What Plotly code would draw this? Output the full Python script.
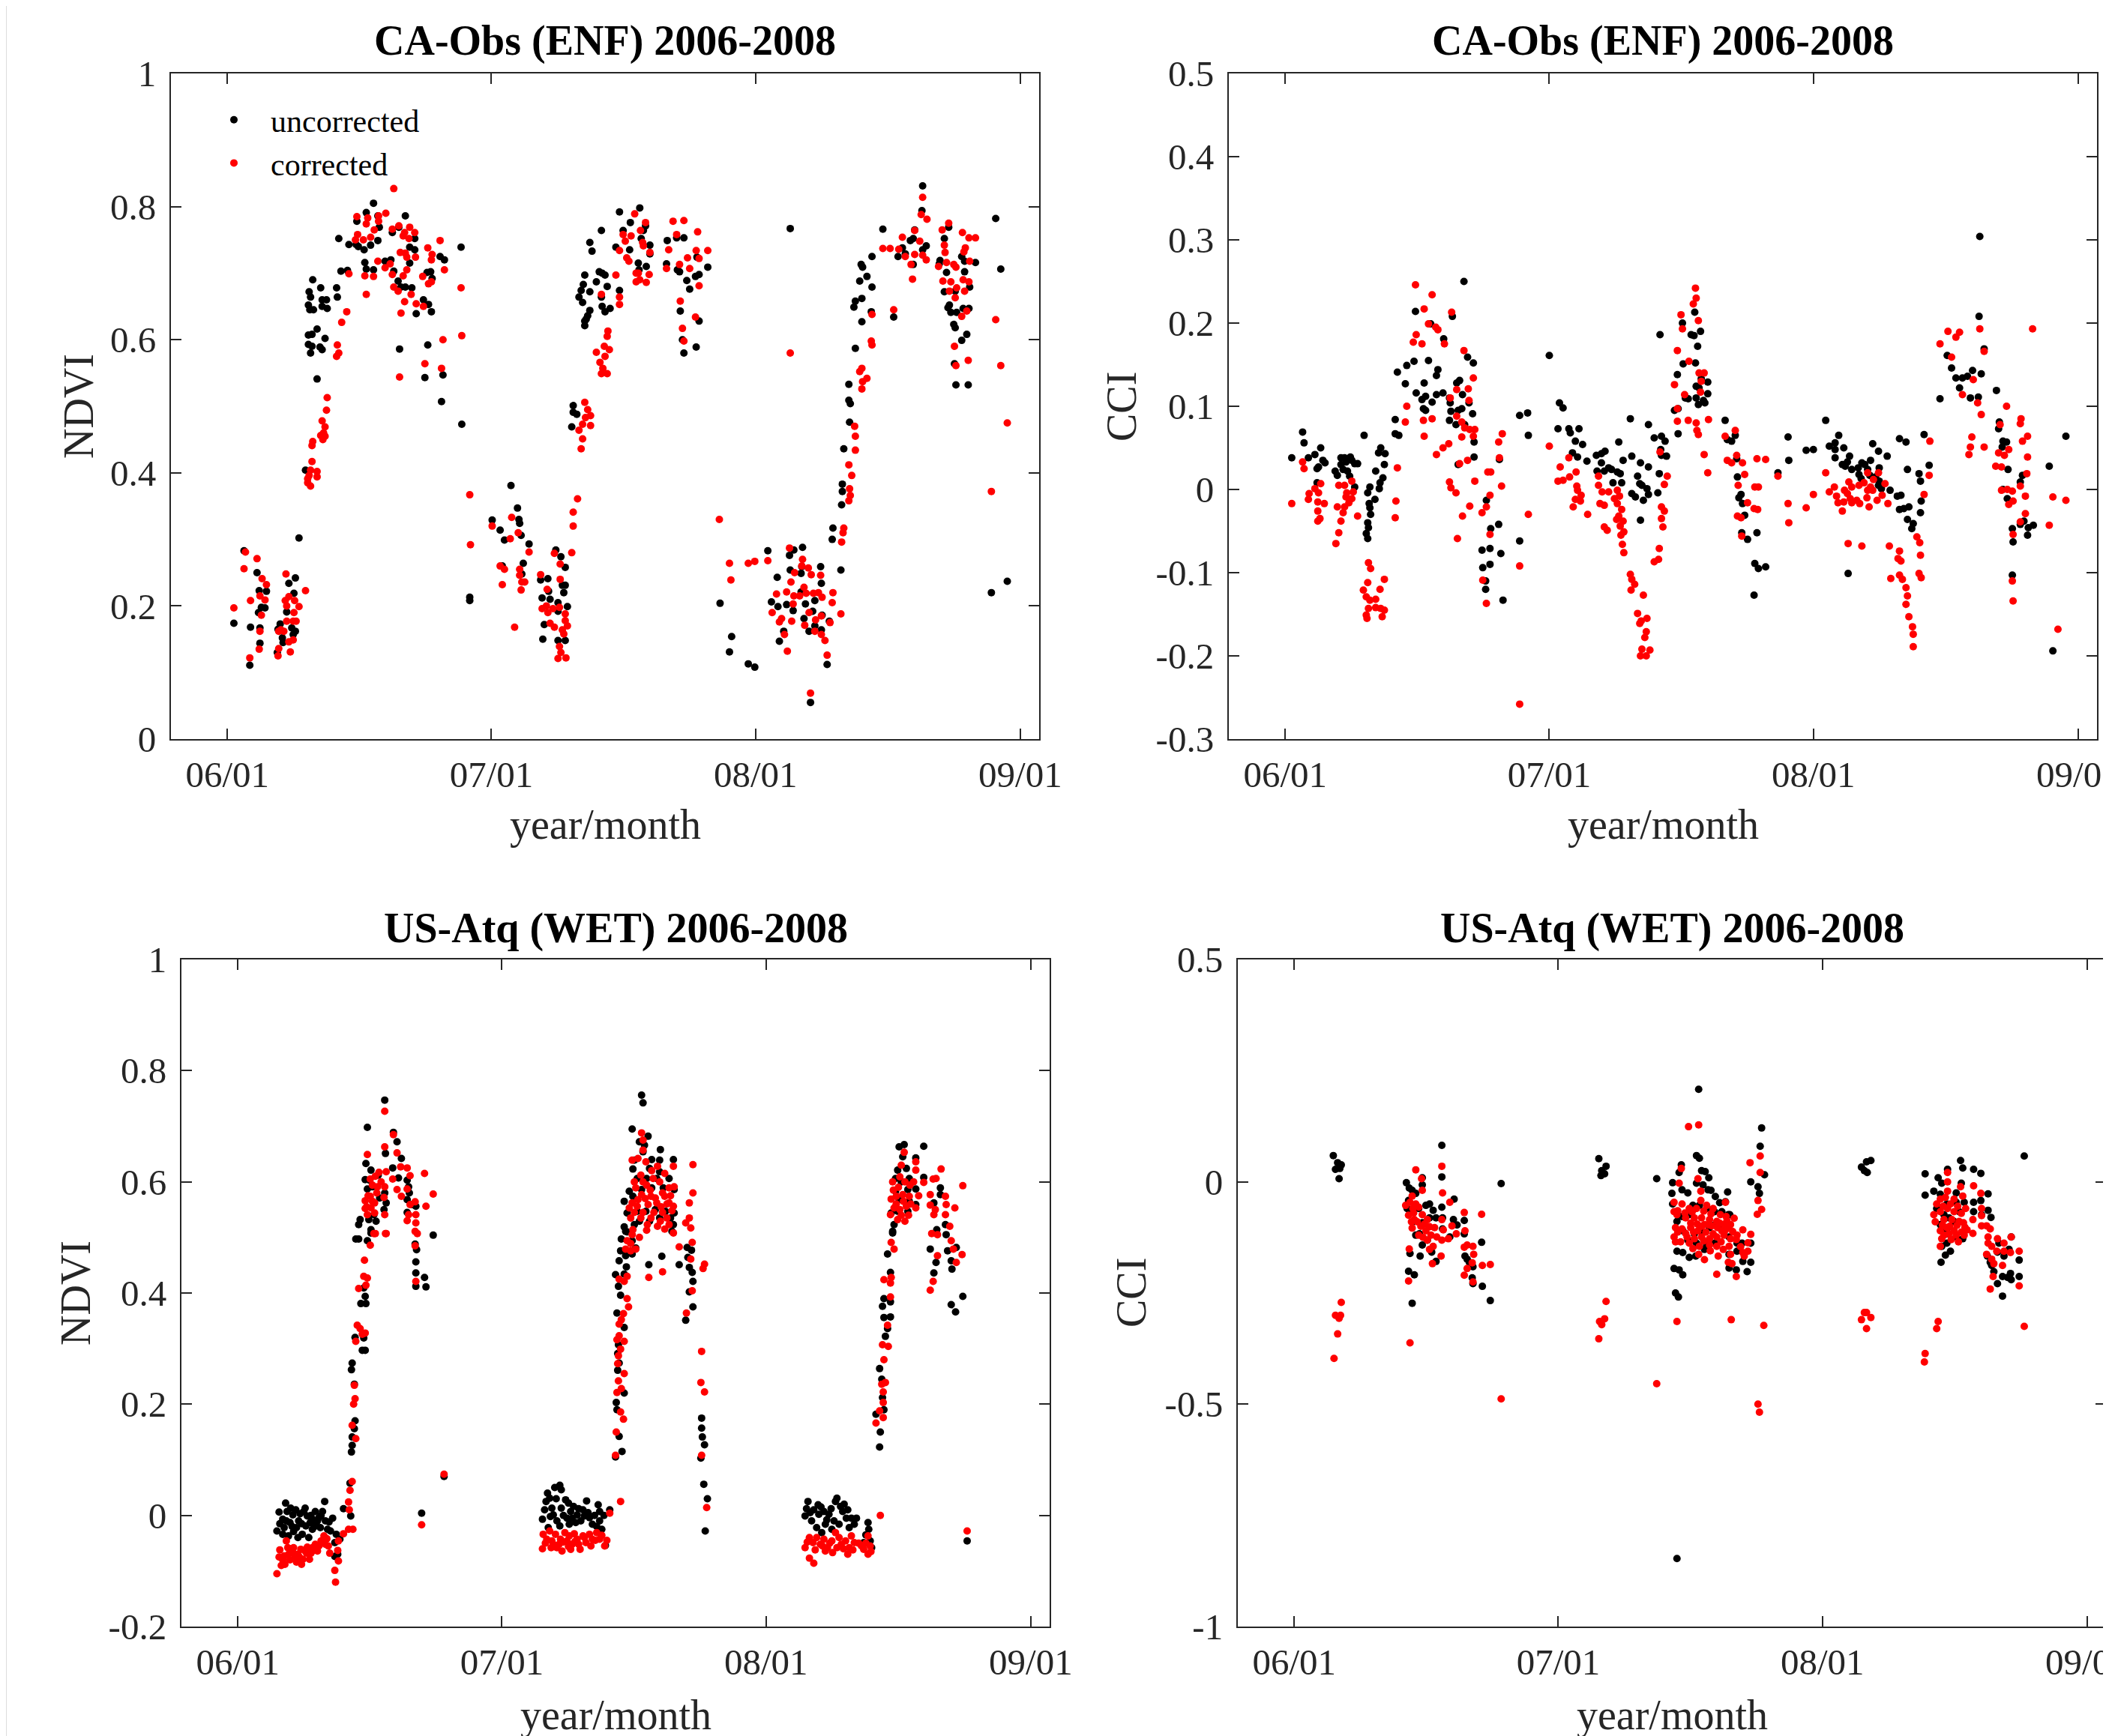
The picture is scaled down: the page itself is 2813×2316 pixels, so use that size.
import plotly.graph_objects as go
import pandas as pd

# ---------------- data (day offset from 2006-01-01, value) ----------------
DAY0 = "2006-01-01"

ca_ndvi_uncorrected = [
 (9,0.174),(23,0.283),(31,0.111),(32,0.168),(41,0.250),(43,0.190),(44,0.223),(47,0.198),(52,0.197),(54,0.222),
 (45,0.167),(45,0.144),(70,0.165),(73,0.173),(69,0.130),(76,0.152),(77,0.145),(82,0.191),(85,0.234),(92,0.219),
 (94,0.242),(89,0.167),(91,0.157),(99,0.302),(94,0.162),
 (108,0.404),(113,0.672),(115,0.664),(112,0.652),(114,0.645),(119,0.645),(118,0.690),(129,0.678),(131,0.660),(131,0.650),
 (137,0.660),(138,0.647),(151,0.678),(152,0.664),(112,0.607),(117,0.608),(124,0.616),(135,0.602),(112,0.593),(117,0.590),
 (115,0.580),(128,0.589),(131,0.585),(124,0.541),
 (154,0.752),(157,0.703),(166,0.704),(168,0.743),(178,0.743),(181,0.740),(179,0.778),(189,0.735),(192,0.791),(198,0.742),
 (202,0.805),(208,0.786),(210,0.769),(208,0.749),(190,0.716),(192,0.706),(202,0.705),(218,0.718),(226,0.720),(228,0.761),
 (237,0.769),(246,0.786),(230,0.703),(236,0.688),(240,0.679),(246,0.679),(255,0.678),(252,0.739),(259,0.752),(252,0.715),
 (259,0.735),(283,0.692),(281,0.702),(276,0.701),(271,0.660),(278,0.653),(282,0.642),(261,0.639),(294,0.725),(300,0.720),
 (323,0.739),(238,0.586),(277,0.592),(273,0.543),(298,0.547),(296,0.507),(324,0.473),(335,0.208),(335,0.213),
 (392,0.381),(401,0.347),(403,0.330),(404,0.324),(366,0.329),(377,0.314),(383,0.299),(406,0.306),(417,0.293),(409,0.264),
 (407,0.248),(454,0.284),(461,0.274),(467,0.258),(433,0.239),(443,0.241),(463,0.231),(467,0.231),(465,0.220),(435,0.212),
 (446,0.210),(444,0.222),(457,0.205),(470,0.199),(457,0.192),(438,0.172),(436,0.150),(457,0.148),(467,0.148),(380,0.260),
 (478,0.501),(478,0.491),(483,0.488),(476,0.469),(494,0.621),(496,0.631),(498,0.636),(501,0.644),(494,0.628),(486,0.664),
 (491,0.656),(489,0.674),(492,0.683),(494,0.697),(501,0.672),(510,0.687),(514,0.702),(518,0.700),(522,0.697),(525,0.680),
 (517,0.664),(518,0.650),(522,0.642),(529,0.647),(501,0.746),(504,0.733),(517,0.764),(537,0.739),(542,0.792),(547,0.764),
 (557,0.776),(556,0.735),(542,0.674),
 (570,0.798),(578,0.771),(575,0.764),(572,0.752),(584,0.742),(579,0.710),(584,0.729),(568,0.715),(569,0.705),(608,0.749),
 (607,0.714),(621,0.753),(631,0.753),(625,0.702),(622,0.705),(635,0.689),(639,0.676),(647,0.695),(652,0.698),(664,0.709),
 (652,0.628),(626,0.643),(629,0.600),(631,0.580),(648,0.589),(649,0.724),(778,0.767),(681,0.204),
 (697,0.154),(694,0.131),(720,0.113),(729,0.108),(747,0.283),(760,0.243),(777,0.276),(783,0.284),(795,0.288),(778,0.254),
 (794,0.259),(793,0.249),(820,0.259),(821,0.234),(752,0.206),(761,0.199),(773,0.202),(782,0.193),(799,0.203),(793,0.221),
 (812,0.208),(809,0.192),(822,0.186),(832,0.177),(821,0.164),(812,0.170),(804,0.162),(797,0.181),(769,0.162),(763,0.147),
 (829,0.112),(806,0.055),(848,0.254),(836,0.300),(837,0.317),
 (850,0.383),(850,0.372),(849,0.352),(852,0.436),(860,0.476),(859,0.509),(861,0.504),(859,0.533),(868,0.587),(877,0.627),
 (866,0.649),(868,0.658),(877,0.662),(874,0.688),(884,0.695),(876,0.713),(878,0.709),(891,0.679),(890,0.642),(891,0.725),
 (906,0.766),(927,0.725),(933,0.738),(937,0.729),(944,0.749),(950,0.765),(948,0.752),(960,0.794),(961,0.831),(961,0.735),
 (966,0.741),(948,0.713),(985,0.719),(984,0.714),(991,0.752),(994,0.701),(997,0.769),(991,0.672),(1006,0.673),(1019,0.702),
 (1019,0.718),(1015,0.725),(1026,0.679),(1034,0.716),(998,0.652),(996,0.648),(1000,0.641),(1008,0.641),(1017,0.647),(1025,0.647),
 (1004,0.623),(1006,0.618),(1022,0.608),(1015,0.599),(1005,0.564),(1007,0.532),(1024,0.532),(921,0.634),(1062,0.782),(1069,0.706),
 (1056,0.220),(1078,0.237),
]

ca_ndvi_corrected = [
 (9,0.197),(25,0.281),(23,0.256),(41,0.271),(32,0.208),(48,0.241),(54,0.232),(45,0.215),(52,0.209),(47,0.186),
 (45,0.162),(44,0.135),(31,0.122),(81,0.248),(80,0.208),(85,0.214),(82,0.200),(93,0.208),(99,0.199),(92,0.190),
 (91,0.177),(82,0.177),(95,0.177),(74,0.164),(78,0.162),(85,0.146),(91,0.149),(71,0.136),(70,0.125),(87,0.131),
 (108,0.223),(71,0.162),
 (138,0.513),(137,0.494),(131,0.478),(135,0.469),(133,0.460),(129,0.456),(135,0.455),(132,0.450),(118,0.447),(117,0.441),
 (117,0.417),(115,0.404),(124,0.402),(113,0.396),(124,0.394),(111,0.391),(111,0.385),(115,0.380),(152,0.592),(154,0.580),
 (151,0.575),(158,0.626),(165,0.642),(168,0.699),
 (230,0.827),(179,0.785),(194,0.783),(192,0.774),(203,0.765),(209,0.778),(219,0.790),(209,0.786),(180,0.758),(177,0.750),
 (188,0.750),(198,0.754),(228,0.766),(237,0.771),(243,0.756),(251,0.752),(252,0.769),(259,0.761),(245,0.761),(239,0.731),
 (246,0.730),(248,0.724),(260,0.724),(277,0.738),(283,0.728),(282,0.720),(294,0.749),(300,0.705),(270,0.695),(278,0.684),
 (282,0.687),(271,0.650),(254,0.668),(261,0.654),(245,0.657),(240,0.640),(236,0.673),(230,0.679),(243,0.696),(228,0.698),
 (218,0.708),(208,0.718),(225,0.714),(248,0.705),(190,0.696),(202,0.695),(192,0.668),(323,0.678),(324,0.606),(298,0.600),
 (296,0.557),(273,0.564),(238,0.544),(335,0.367),(336,0.292),
 (393,0.333),(366,0.320),(402,0.310),(391,0.301),(417,0.281),(377,0.260),(383,0.255),(404,0.255),(404,0.246),(411,0.236),
 (407,0.236),(380,0.232),(406,0.224),(433,0.247),(442,0.225),(452,0.279),(460,0.263),(460,0.240),(441,0.200),(435,0.196),
 (443,0.190),(450,0.196),(459,0.198),(467,0.188),(467,0.178),(470,0.170),(446,0.174),(452,0.168),(463,0.164),(465,0.158),
 (459,0.139),(461,0.130),(457,0.121),(468,0.122),(397,0.168),(476,0.280),(478,0.320),(478,0.341),(484,0.361),
 (494,0.506),(498,0.495),(502,0.486),(495,0.483),(491,0.473),(502,0.471),(486,0.464),(491,0.451),(489,0.436),(526,0.613),
 (525,0.605),(521,0.590),(528,0.585),(510,0.581),(522,0.575),(515,0.566),(519,0.557),(517,0.549),(525,0.549),(517,0.668),
 (537,0.697),(542,0.653),(542,0.664),(542,0.734),(547,0.758),(550,0.748),(558,0.756),(552,0.723),(555,0.718),(563,0.789),
 (565,0.700),(565,0.687),
 (578,0.776),(571,0.764),(574,0.746),(575,0.741),(584,0.731),(583,0.698),(579,0.686),(568,0.700),(570,0.690),(616,0.778),
 (631,0.779),(621,0.758),(650,0.762),(610,0.735),(636,0.723),(648,0.734),(652,0.722),(664,0.734),(625,0.713),(607,0.707),
 (639,0.707),(652,0.681),(626,0.658),(647,0.634),(629,0.617),(631,0.598),(778,0.580),(680,0.330),
 (694,0.264),(696,0.239),(720,0.264),(729,0.267),(747,0.268),(777,0.287),(795,0.270),(794,0.260),(803,0.257),(807,0.247),
 (820,0.246),(784,0.250),(779,0.236),(759,0.218),(773,0.221),(783,0.215),(791,0.215),(797,0.228),(800,0.219),(810,0.219),
 (817,0.220),(822,0.213),(837,0.220),(836,0.205),(782,0.203),(753,0.190),(766,0.181),(780,0.177),(763,0.176),(798,0.171),
 (804,0.190),(813,0.179),(821,0.185),(848,0.188),(833,0.175),(770,0.157),(812,0.162),(821,0.157),(826,0.148),(774,0.132),
 (829,0.126),(806,0.069),(852,0.317),(851,0.310),(849,0.296),
 (860,0.376),(861,0.366),(859,0.358),(863,0.396),(859,0.412),(868,0.434),(868,0.455),(867,0.470),(877,0.557),(874,0.552),
 (884,0.542),(878,0.537),(877,0.526),(891,0.638),(890,0.598),(891,0.592),
 (961,0.814),(959,0.788),(967,0.781),(950,0.764),(957,0.748),(933,0.754),(906,0.737),(916,0.737),(928,0.736),(937,0.725),
 (950,0.728),(961,0.727),(966,0.720),(945,0.713),(947,0.691),(988,0.765),(997,0.775),(1016,0.761),(1025,0.753),(1034,0.753),
 (991,0.742),(992,0.731),(1020,0.738),(1018,0.732),(983,0.710),(994,0.716),(1004,0.713),(1007,0.709),(1026,0.718),(989,0.688),
 (1000,0.687),(1017,0.690),(1025,0.687),(1008,0.678),(998,0.673),(1019,0.673),(1006,0.663),(1022,0.643),(1015,0.635),(921,0.645),
 (1005,0.590),(1024,0.569),(1007,0.561),(1062,0.630),(1069,0.561),(1056,0.372),(1078,0.475),
]

ca_cci_uncorrected = [
 (9,0.038),(24,0.069),(26,0.056),(32,0.038),(41,0.042),(44,0.025),(49,0.050),(46,0.027),(52,0.035),(55,0.032),
 (44,0.008),(69,0.022),(72,0.017),(77,0.038),(77,0.030),(82,0.038),(84,0.033),(90,0.039),(92,0.035),(96,0.031),
 (100,0.031),(80,0.024),(86,0.022),(89,0.016),(96,0.003),(109,0.065),(132,0.050),(129,0.044),(138,0.043),(137,0.030),
 (125,0.022),(135,0.014),(131,0.008),(130,0.001),(117,0.003),(114,-0.004),(124,-0.012),(116,-0.017),(117,-0.022),(118,-0.030),
 (114,-0.040),(115,-0.046),(112,-0.053),(114,-0.059),(152,0.084),(152,0.067),(157,0.065),
 (155,0.141),(168,0.149),(178,0.154),(166,0.127),(180,0.214),(198,0.155),(211,0.144),(209,0.137),(192,0.128),(181,0.116),
 (189,0.108),(194,0.112),(203,0.105),(191,0.097),(194,0.095),(209,0.114),(218,0.116),(227,0.110),(228,0.104),(229,0.094),
 (237,0.128),(241,0.131),(245,0.114),(254,0.104),(248,0.078),(244,0.097),(239,0.095),(227,0.083),(236,0.078),(260,0.152),
 (252,0.159),(247,0.250),(231,0.208),(219,0.181),(259,0.091),(261,0.057),(261,0.039),(239,0.030),(278,-0.013),(284,-0.047),
 (295,-0.042),(272,-0.073),(283,-0.071),(298,-0.077),(273,-0.094),(283,-0.090),(277,-0.110),(277,-0.120),(301,-0.133),(324,0.089),
 (335,0.092),(336,0.065),(324,-0.062),(296,0.036),(201,0.199),
 (365,0.161),(379,0.104),(384,0.098),(377,0.073),(392,0.073),(394,0.068),(406,0.073),(401,0.058),(411,0.054),(397,0.044),
 (404,0.039),(417,0.034),(430,0.041),(437,0.043),(442,0.046),(437,0.032),(431,0.022),(441,0.022),(447,0.026),(451,0.024),
 (459,0.021),(463,0.019),(453,0.008),(465,0.008),(461,0.057),(467,0.035),(477,0.085),(479,0.040),(491,0.032),(502,0.078),
 (502,0.027),(487,0.016),(490,0.007),(493,0.005),(500,0.001),(502,-0.006),(495,-0.013),(479,-0.005),(484,-0.009),(515,-0.004),
 (517,0.019),(491,-0.037),(510,0.062),(520,0.064),(525,0.058),(519,0.048),(520,0.041),(527,0.040),(542,0.138),(550,0.151),
 (543,0.097),(538,0.095),(543,0.067),(549,0.200),(553,0.110),(518,0.186),
 (566,0.213),(561,0.186),(565,0.185),(574,0.190),(570,0.172),(567,0.152),(575,0.133),(568,0.124),(572,0.122),(584,0.129),
 (584,0.115),(568,0.110),(578,0.107),(571,0.102),(580,0.104),(557,0.109),
 (608,0.083),(611,0.060),(617,0.058),(622,0.065),(624,0.037),(625,0.015),(630,-0.006),(627,-0.010),(632,-0.017),(635,-0.031),
 (631,-0.052),(639,-0.060),(652,-0.052),(649,-0.089),(654,-0.095),(664,-0.093),(648,-0.127),(695,0.063),(696,0.035),(681,0.020),
 (720,0.047),(730,0.048),(747,0.083),(752,0.052),(760,0.056),(765,0.065),(772,0.050),(760,0.048),(760,0.038),(770,0.030),
 (777,0.033),(780,0.040),(774,0.028),(783,0.024),(792,0.026),(797,0.032),(801,0.030),(809,0.035),(812,0.055),(820,0.046),
 (832,0.040),(821,0.026),(793,0.018),(796,0.013),(805,0.024),(808,0.017),(816,0.015),(821,0.010),(820,0.005),(824,0.001),
 (836,-0.001),(846,-0.008),(851,-0.007),(849,-0.024),(855,-0.023),(862,-0.021),(860,-0.036),(868,-0.041),(866,-0.047),(878,0.010),
 (876,0.019),(879,-0.014),(878,-0.028),(860,0.024),(849,0.061),(858,0.057),(883,0.066),(890,0.029),(778,-0.101),
 (905,0.109),(915,0.161),(921,0.146),(927,0.134),(936,0.134),(932,0.122),(943,0.136),(950,0.143),(947,0.110),(958,0.111),
 (959,0.208),(960,0.304),(966,0.169),(962,0.139),(983,0.119),(987,0.081),(986,0.073),(992,0.058),(997,0.057),(991,0.051),
 (999,0.024),(992,0.000),(998,-0.011),(1019,0.017),(1016,0.009),(1005,-0.047),(1006,-0.063),(1021,-0.038),(1016,-0.042),(1027,-0.046),
 (1034,-0.043),(1026,-0.055),(1005,-0.103),(1056,0.028),(1079,0.064),(1061,-0.194),
]

ca_cci_corrected = [
 (9,-0.017),(24,0.033),(26,0.025),(33,-0.005),(32,-0.012),(41,0.001),(49,0.007),(46,-0.004),(45,-0.015),(54,-0.017),
 (45,-0.026),(45,-0.038),(48,-0.035),(74,0.005),(82,0.005),(92,0.010),(85,-0.004),(94,-0.003),(84,-0.009),(92,-0.011),
 (88,-0.016),(82,-0.021),(72,-0.021),(80,-0.028),(77,-0.038),(100,-0.032),(74,-0.052),(70,-0.065),(153,-0.014),(152,-0.034),
 (155,0.026),
 (115,-0.088),(118,-0.095),(114,-0.112),(108,-0.121),(112,-0.129),(117,-0.133),(125,-0.132),(131,-0.120),(137,-0.108),(115,-0.143),
 (125,-0.142),(132,-0.143),(137,-0.145),(112,-0.151),(113,-0.155),(134,-0.153),
 (180,0.246),(203,0.234),(192,0.217),(230,0.213),(198,0.199),(208,0.195),(211,0.192),(181,0.186),(177,0.177),(189,0.175),
 (220,0.175),(247,0.167),(260,0.134),(237,0.120),(253,0.121),(228,0.110),(254,0.107),(168,0.100),(166,0.081),(191,0.083),
 (203,0.085),(192,0.064),(237,0.088),(244,0.081),(248,0.074),(255,0.072),(262,0.072),(244,0.063),(260,0.064),(226,0.055),
 (218,0.050),(209,0.042),(252,0.035),(241,0.031),(300,0.067),(295,0.057),(296,0.038),(280,0.021),(284,0.021),(262,0.010),
 (227,0.009),(229,0.002),(236,-0.004),(299,0.004),(283,-0.007),(278,-0.021),(255,-0.020),(272,-0.028),(245,-0.032),(238,-0.059),
 (283,-0.054),(273,-0.109),(278,-0.137),(324,-0.092),(336,-0.030),(324,-0.258),
 (365,0.052),(380,0.027),(384,0.011),(377,0.010),(392,0.038),(393,0.015),(402,0.021),(403,0.004),(404,-0.001),(401,-0.012),
 (409,-0.007),(408,-0.014),(398,-0.021),(418,-0.030),(433,0.016),(433,0.005),(438,-0.003),(447,-0.003),(455,-0.011),(459,-0.001),
 (462,-0.008),(435,-0.017),(441,-0.019),(459,-0.017),(465,-0.024),(461,-0.032),(458,-0.036),(467,-0.038),(463,-0.044),(468,-0.051),
 (441,-0.045),(445,-0.049),(464,-0.055),(466,-0.066),(468,-0.076),(477,-0.102),(479,-0.108),(483,-0.114),(478,-0.121),(495,-0.127),
 (487,-0.149),(492,-0.158),(500,-0.155),(490,-0.161),(499,-0.171),(497,-0.178),(493,-0.192),(504,-0.193),(491,-0.200),(499,-0.200),
 (517,-0.071),(516,-0.084),(510,-0.087),(528,0.016),(524,0.006),(520,-0.021),(524,-0.026),(520,-0.035),(522,-0.045),(518,0.045),
 (538,0.126),(542,0.167),(547,0.210),(549,0.193),(542,0.097),(542,0.082),(552,0.114),
 (567,0.242),(568,0.230),(564,0.223),(571,0.203),(558,0.154),(572,0.140),(579,0.140),(575,0.130),(574,0.117),(568,0.080),
 (569,0.071),(571,0.066),(585,0.084),(557,0.083),(579,0.042),(584,0.020),
 (608,0.064),(622,0.071),(624,0.041),(611,0.035),(617,0.032),(632,0.032),(635,0.018),(626,0.005),(649,0.003),(654,0.003),
 (652,0.037),(664,0.036),(639,-0.016),(648,-0.023),(653,-0.024),(625,-0.032),(631,-0.056),(630,-0.034),(681,0.016),(695,-0.017),
 (696,-0.040),(720,-0.022),(730,-0.006),
 (747,0.020),(752,-0.003),(759,0.003),(762,-0.008),(764,-0.016),(770,-0.026),(772,-0.015),(779,0.009),(783,0.003),(773,-0.001),
 (777,-0.005),(781,-0.011),(783,-0.016),(790,-0.013),(794,-0.017),(793,0.005),(800,0.008),(805,-0.001),(809,0.003),(804,-0.010),
 (807,-0.021),(812,-0.001),(813,0.012),(805,0.020),(820,0.020),(818,-0.013),(825,-0.007),(829,0.007),(833,-0.017),(778,-0.065),
 (797,-0.068),(835,-0.068),(849,-0.074),(847,-0.083),(851,-0.086),(837,-0.107),(849,-0.103),(853,-0.108),(858,-0.118),(860,-0.128),
 (858,-0.138),(862,-0.153),(867,-0.165),(868,-0.174),(868,-0.189),(873,-0.057),(877,-0.064),(878,-0.079),(876,-0.101),(879,-0.106),
 (891,0.058),(890,0.017),(883,-0.006),
 (905,0.175),(916,0.190),(927,0.183),(932,0.189),(960,0.193),(966,0.166),(921,0.159),(951,0.132),(936,0.114),(957,0.104),
 (962,0.090),(997,0.100),(988,0.078),(1017,0.085),(1016,0.079),(1026,0.064),(1019,0.058),(1000,0.048),(986,0.044),(994,0.041),
 (1026,0.039),(982,0.028),(990,0.027),(1025,0.019),(990,-0.001),(998,0.000),(1005,-0.002),(1016,0.004),(1023,-0.008),(1006,-0.014),
 (1000,-0.018),(1023,-0.029),(1016,-0.039),(1006,-0.054),(1005,-0.110),(1006,-0.134),(949,0.063),(947,0.051),(966,0.051),(945,0.042),
 (1033,0.193),(1056,-0.043),(1061,-0.009),(1079,-0.013),(1068,-0.168),
]

us_ndvi_uncorrected = [
 (54,-0.028),(57,0.006),(62,-0.007),(66,0.022),(64,-0.022),(68,0.007),(72,-0.013),(76,0.001),(77,-0.029),(81,-0.022),
 (83,-0.040),(86,0.003),(91,0.007),(96,-0.001),(100,-0.013),(103,-0.007),(107,0.007),(108,-0.016),(112,-0.004),(117,0.007),
 (120,0.025),(121,-0.010),(124,-0.025),(128,-0.028),(136,-0.034),(134,-0.049),(138,-0.070),(134,-0.074),(141,-0.043),(62,-0.034),
 (70,-0.037),(89,-0.034),(98,-0.040),(114,-0.022),(84,-0.010),(73,0.013),(94,-0.019),(103,-0.025),
 (58,-0.015),(67,-0.010),(75,-0.020),(80,0.010),(88,-0.015),(93,0.013),(101,0.000),(106,-0.020),(110,-0.010),(115,0.000),
 (126,-0.012),(131,-0.005),
 (146,0.012),(155,0.058),(156,-0.001),(157,0.114),(158,0.126),(158,0.141),(161,0.156),(162,0.170),(157,0.262),(158,0.274),
 (161,0.236),(162,0.320),(172,0.297),(176,0.297),(174,0.319),(170,0.381),(177,0.381),(176,0.394),(174,0.409),(163,0.497),
 (167,0.497),(179,0.494),(167,0.523),(169,0.532),(184,0.508),
 (203,0.747),(179,0.698),(215,0.689),(220,0.672),(226,0.642),(204,0.651),(177,0.633),(184,0.621),(214,0.625),(194,0.612),
 (176,0.604),(182,0.603),(222,0.607),(234,0.603),(203,0.580),(186,0.591),(179,0.587),(236,0.591),(237,0.580),(196,0.571),
 (205,0.562),(181,0.532),(184,0.514),(191,0.529),(234,0.568),(241,0.559),(234,0.545),(246,0.556),(270,0.504),(245,0.488),
 (247,0.478),(246,0.456),(246,0.436),(258,0.428),(246,0.412),(260,0.411),(202,0.550),(188,0.541),(254,0.004),(285,0.070),
 (421,-0.007),(426,0.025),(428,0.040),(431,0.031),(434,0.013),(438,0.050),(445,0.054),(447,0.046),(436,0.001),(441,-0.010),
 (447,0.013),(453,0.028),(457,0.022),(460,0.007),(464,0.016),(455,-0.005),(469,0.001),(467,-0.013),(474,-0.010),(479,-0.001),
 (482,0.026),(486,-0.004),(490,-0.016),(498,0.019),(500,0.007),(500,-0.010),(503,-0.025),(429,-0.022),(445,-0.019),(458,-0.016),
 (514,0.010),(508,-0.054),
 (424,0.010),(432,-0.002),(440,0.030),(450,0.000),(462,-0.005),(471,0.012),(477,0.010),(484,0.005),(493,0.000),(496,-0.020),
 (506,0.000),
 (522,0.105),(531,0.115),(527,0.142),(524,0.190),(523,0.203),(534,0.220),(525,0.261),(527,0.274),(525,0.291),(526,0.307),
 (534,0.338),(524,0.364),(529,0.396),(526,0.412),(522,0.433),(534,0.434),(537,0.447),(527,0.458),(529,0.476),(536,0.467),
 (530,0.497),(534,0.519),(538,0.510),
 (558,0.756),(560,0.742),(545,0.695),(567,0.682),(555,0.672),(562,0.666),(560,0.654),(584,0.658),(548,0.639),(572,0.640),
 (583,0.639),(602,0.640),(546,0.623),(569,0.624),(583,0.618),(552,0.606),(565,0.606),(579,0.606),(596,0.606),(603,0.586),
 (541,0.583),(558,0.586),(572,0.589),(588,0.589),(546,0.574),(534,0.565),(538,0.544),(552,0.547),(564,0.547),(577,0.550),
 (591,0.547),(603,0.544),(598,0.535),(583,0.535),(548,0.523),(555,0.529),(569,0.529),(602,0.523),(536,0.511),(600,0.511),
 (545,0.494),(550,0.481),(545,0.470),(621,0.482),(627,0.477),(622,0.464),(624,0.446),(628,0.437),(629,0.421),(624,0.402),
 (619,0.351),(629,0.375),(568,0.451),(586,0.466),(610,0.451),
 (641,0.175),(641,0.157),(642,0.141),(645,0.127),(640,0.103),(644,0.056),(649,0.030),(646,-0.028),
 (788,0.025),(796,0.010),(802,0.019),(784,-0.001),(793,-0.010),(803,0.002),(810,0.007),(817,0.002),(826,0.025),(828,0.031),
 (833,0.016),(836,0.007),(841,-0.005),(848,-0.005),(824,-0.010),(812,-0.016),(800,-0.022),(831,-0.016),(845,-0.022),(852,-0.016),
 (871,-0.013),(872,-0.025),(865,-0.049),(874,-0.046),(876,-0.058),(807,-0.031),(821,-0.025),
 (786,0.012),(791,0.005),(806,0.015),(814,-0.008),(820,0.012),(838,0.020),(843,0.010),(855,-0.005),(868,-0.035),
 (887,0.123),(888,0.150),(882,0.182),(893,0.190),(891,0.212),(890,0.245),(887,0.264),(895,0.322),(898,0.336),(893,0.356),
 (902,0.357),(891,0.376),(893,0.390),(902,0.384),(902,0.437),(898,0.470),(905,0.508),
 (914,0.663),(921,0.667),(919,0.645),(948,0.664),(937,0.643),(912,0.621),(924,0.624),(909,0.606),(917,0.600),(928,0.606),
 (948,0.608),(909,0.583),(926,0.586),(914,0.568),(928,0.565),(937,0.587),(937,0.559),(903,0.544),(912,0.547),(907,0.523),
 (926,0.547),(905,0.511),(971,0.589),(971,0.577),(962,0.562),(978,0.523),(979,0.505),(966,0.514),(957,0.479),(981,0.476),
 (986,0.458),(993,0.482),(987,0.443),(962,0.436),(965,0.455),(986,0.379),(992,0.366),(1002,0.394),(1008,-0.046),
]

us_ndvi_corrected = [
 (54,-0.105),(58,-0.062),(60,-0.090),(64,-0.073),(67,-0.046),(69,-0.058),(72,-0.080),(76,-0.067),(81,-0.084),(83,-0.070),
 (87,-0.061),(90,-0.079),(93,-0.064),(96,-0.057),(99,-0.079),(103,-0.058),(107,-0.052),(112,-0.055),(115,-0.046),(119,-0.037),
 (121,-0.052),(127,-0.068),(139,-0.046),(138,-0.063),(139,-0.082),(134,-0.099),(135,-0.120),(146,-0.033),(65,-0.088),(77,-0.058),
 (110,-0.064),(88,-0.088),
 (57,-0.075),(62,-0.080),(70,-0.070),(74,-0.060),(79,-0.075),(85,-0.075),(95,-0.068),(101,-0.068),(105,-0.063),(117,-0.048),
 (123,-0.042),(125,-0.055),
 (153,-0.025),(158,0.061),(155,0.045),(153,0.024),(154,0.010),(159,-0.025),(163,0.138),(158,0.162),(160,0.200),(162,0.210),
 (161,0.234),(163,0.313),(165,0.342),(169,0.336),(172,0.326),(176,0.328),(167,0.408),(177,0.414),(179,0.427),(174,0.430),
 (175,0.459),(183,0.486),(188,0.507),(204,0.507),
 (203,0.727),(215,0.685),(179,0.649),(220,0.652),(203,0.663),(195,0.617),(205,0.618),(225,0.627),(234,0.625),(238,0.611),
 (214,0.605),(186,0.594),(193,0.591),(203,0.591),(202,0.572),(176,0.566),(183,0.574),(189,0.562),(184,0.553),(176,0.552),
 (179,0.541),(189,0.544),(203,0.541),(205,0.507),(190,0.507),(234,0.587),(220,0.586),(226,0.574),(245,0.564),(238,0.559),
 (236,0.541),(246,0.541),(234,0.530),(246,0.526),(245,0.511),(248,0.507),(258,0.615),(270,0.578),(260,0.556),(245,0.485),
 (246,0.421),(254,-0.017),(285,0.074),
 (180,0.575),(186,0.565),(192,0.580),(198,0.600),(190,0.610),(183,0.605),(178,0.555),
 (421,-0.060),(422,-0.034),(427,-0.043),(431,-0.028),(434,-0.046),(439,-0.034),(441,-0.058),(446,-0.043),(448,-0.064),(452,-0.031),
 (455,-0.046),(458,-0.037),(462,-0.052),(465,-0.033),(469,-0.043),(473,-0.061),(477,-0.037),(481,-0.049),(486,-0.034),(490,-0.043),
 (496,-0.031),(500,-0.043),(507,-0.055),(436,-0.052),(460,-0.061),(514,0.004),(529,0.025),
 (425,-0.050),(433,-0.058),(444,-0.052),(450,-0.048),(457,-0.056),(466,-0.047),(471,-0.052),(479,-0.040),(488,-0.055),(494,-0.045),
 (503,-0.036),(510,-0.045),
 (522,0.108),(523,0.150),(533,0.173),(529,0.186),(524,0.221),(530,0.228),(526,0.242),(534,0.255),(525,0.273),(526,0.287),
 (529,0.299),(534,0.313),(524,0.316),(527,0.323),(527,0.344),(530,0.352),(540,0.375),(533,0.363),(538,0.390),(534,0.421),
 (527,0.425),(538,0.430),(536,0.479),(543,0.489),(545,0.505),
 (558,0.688),(560,0.675),(560,0.657),(545,0.639),(553,0.642),(564,0.636),(602,0.628),(629,0.631),(557,0.612),(574,0.606),
 (565,0.594),(583,0.600),(596,0.589),(603,0.591),(550,0.589),(545,0.562),(558,0.577),(571,0.574),(577,0.571),(590,0.574),
 (541,0.553),(552,0.556),(567,0.559),(579,0.562),(596,0.562),(602,0.556),(629,0.580),(624,0.562),(543,0.535),(557,0.535),
 (571,0.535),(584,0.529),(593,0.535),(600,0.548),(596,0.523),(546,0.514),(565,0.513),(602,0.508),(619,0.526),(626,0.517),
 (624,0.535),(538,0.494),(550,0.479),(543,0.476),(610,0.483),(628,0.491),(626,0.461),(628,0.404),(620,0.364),(568,0.428),
 (587,0.438),(645,0.452),(643,0.444),
 (548,0.600),(560,0.600),(570,0.585),(587,0.580),(598,0.575),(553,0.568),(563,0.570),(585,0.555),(593,0.560),(575,0.545),
 (587,0.545),(560,0.545),(548,0.545),(566,0.523),(580,0.520),(590,0.515),(555,0.500),(572,0.620),(590,0.615),(580,0.628),
 (641,0.295),(640,0.239),(645,0.222),(641,0.108),(648,0.014),
 (784,-0.058),(790,-0.040),(795,-0.049),(800,-0.040),(805,-0.052),(810,-0.043),(815,-0.058),(821,-0.046),(826,-0.031),(831,-0.040),
 (834,-0.052),(840,-0.046),(845,-0.058),(848,-0.037),(852,-0.049),(865,-0.061),(871,-0.070),(874,-0.055),(871,-0.037),(790,-0.077),
 (796,-0.086),(812,-0.064),(822,-0.067),(843,-0.070),(862,-0.055),(888,0.000),
 (787,-0.048),(798,-0.062),(808,-0.055),(818,-0.050),(828,-0.058),(837,-0.060),(850,-0.062),(858,-0.050),(868,-0.050),(875,-0.065),
 (882,0.166),(892,0.176),(887,0.188),(892,0.203),(892,0.222),(890,0.236),(895,0.239),(893,0.280),(891,0.307),(899,0.304),
 (898,0.342),(902,0.393),(902,0.418),(893,0.424),(903,0.428),(903,0.491),(907,0.479),
 (921,0.653),(917,0.630),(937,0.636),(937,0.621),(915,0.609),(922,0.600),(929,0.594),(948,0.599),(965,0.606),(972,0.623),
 (961,0.605),(903,0.569),(910,0.574),(919,0.577),(928,0.574),(907,0.553),(915,0.550),(924,0.556),(937,0.553),(902,0.541),
 (912,0.532),(922,0.529),(957,0.577),(957,0.558),(964,0.550),(962,0.541),(978,0.574),(979,0.559),(978,0.541),(991,0.553),
 (984,0.520),(959,0.507),(967,0.505),(986,0.494),(989,0.479),(967,0.467),(993,0.455),(1001,0.469),(961,0.421),(957,0.405),
 (1002,0.593),(1008,-0.028),
 (906,0.585),(913,0.590),(920,0.565),(930,0.560),(934,0.600),(910,0.560),(917,0.540),(927,0.540),(941,0.575),(905,0.600),
]

us_cci_uncorrected = [
 (54,0.059),(60,0.043),(65,0.038),(57,0.028),(63,0.030),(62,0.007),
 (155,-0.002),(159,-0.014),(163,-0.019),(168,-0.026),(177,0.009),(177,-0.007),(158,-0.042),(156,-0.060),(160,-0.067),(172,-0.060),
 (182,-0.053),(187,-0.050),(192,-0.064),(166,-0.089),(177,-0.092),(187,-0.081),(196,-0.081),(173,-0.117),(168,-0.120),(177,-0.142),
 (184,-0.131),(190,-0.158),(196,-0.179),(160,-0.161),(174,-0.167),(158,-0.201),(166,-0.209),(163,-0.273),(204,0.082),(204,0.011),
 (204,-0.057),(205,-0.081),(205,-0.106),(221,-0.039),(220,-0.085),(225,-0.097),(235,-0.087),(235,-0.117),(236,-0.167),(239,-0.174),
 (242,-0.181),(247,-0.191),(246,-0.216),(247,-0.229),(259,-0.136),(260,-0.235),(271,-0.267),(286,-0.004),(215,-0.124),
 (421,0.052),(431,0.035),(425,0.025),(424,0.014),(429,0.018),(501,0.007),
 (523,-0.002),(522,-0.026),(523,-0.050),(529,-0.847),(559,0.208),(556,0.059),(560,0.053),(535,0.038),(532,0.021),(563,0.025),
 (568,0.023),(573,0.009),(536,-0.018),(544,-0.025),(556,-0.003),(565,-0.007),(572,-0.018),(576,-0.019),(599,-0.023),(582,-0.033),
 (588,-0.047),(596,-0.045),(551,-0.053),(560,-0.053),(570,-0.060),(581,-0.067),(591,-0.067),(602,-0.074),(536,-0.078),(546,-0.074),
 (529,-0.089),(537,-0.110),(553,-0.117),(563,-0.113),(574,-0.103),(582,-0.096),(591,-0.103),(601,-0.124),(544,-0.131),(556,-0.138),
 (570,-0.142),(581,-0.138),(612,-0.138),(619,-0.138),(631,-0.138),(529,-0.156),(537,-0.159),(546,-0.170),(555,-0.167),(567,-0.152),
 (601,-0.163),(612,-0.156),(620,-0.179),(631,-0.181),(525,-0.195),(532,-0.198),(537,-0.209),(601,-0.194),(611,-0.198),(626,-0.202),
 (527,-0.250),(531,-0.259),(646,0.121),(644,0.080),(641,-0.011),(643,-0.026),(650,0.016),(631,0.000),(600,-0.074),
 (784,0.033),(788,0.025),(792,0.021),(791,0.045),(797,0.048),
 (872,0.018),(872,-0.030),(884,-0.021),(890,0.009),(895,-0.003),(903,0.028),(921,0.048),(924,0.031),(939,0.028),(949,0.019),
 (959,-0.027),(922,-0.003),(915,-0.025),(893,-0.028),(902,-0.050),(915,-0.046),(926,-0.046),(939,-0.046),(949,-0.042),(939,-0.067),
 (888,-0.060),(898,-0.074),(905,-0.081),(919,-0.067),(893,-0.096),(903,-0.103),(912,-0.089),(950,-0.074),(959,-0.064),(963,-0.080),
 (895,-0.110),(903,-0.117),(915,-0.124),(924,-0.128),(902,-0.138),(895,-0.145),(907,-0.156),(900,-0.165),(894,-0.181),(964,-0.188),
 (967,-0.202),(972,-0.229),(979,-0.257),(979,-0.213),(986,-0.215),(990,-0.206),(991,-0.220),(1002,-0.213),(1002,-0.176),(958,-0.167),
 (962,-0.181),(974,-0.138),(972,-0.158),(981,-0.167),(988,-0.152),(991,-0.124),(1009,0.058),
]

us_cci_corrected = [
 (65,-0.271),(57,-0.300),(64,-0.300),(62,-0.307),(60,-0.342),(55,-0.397),
 (168,0.027),(176,0.007),(177,-0.019),(163,-0.032),(160,-0.046),(154,-0.053),(164,-0.060),(172,-0.057),(177,-0.074),(166,-0.085),
 (163,-0.104),(184,-0.085),(187,-0.101),(182,-0.110),(189,-0.120),(184,-0.131),(194,-0.103),(197,-0.124),(192,-0.145),(187,-0.152),
 (159,-0.151),(158,-0.223),(191,-0.184),(203,-0.167),(204,0.035),(205,-0.025),(204,-0.085),(206,-0.108),(204,-0.131),(215,-0.046),
 (213,-0.128),(218,-0.099),(224,-0.117),(235,-0.069),(236,-0.110),(235,-0.147),(239,-0.142),(247,-0.145),(248,-0.163),(246,-0.182),
 (239,-0.195),(235,-0.210),(247,-0.225),(259,-0.073),(260,-0.188),(271,-0.186),(286,-0.488),(160,-0.362),
 (158,-0.075),(165,-0.070),(170,-0.090),(175,-0.100),(180,-0.095),(172,-0.120),(178,-0.125),(168,-0.050),(162,-0.090),
 (431,-0.269),(422,-0.314),(429,-0.308),(425,-0.321),(421,-0.353),(501,-0.454),
 (525,-0.067),(527,-0.135),(529,-0.314),(545,0.124),(559,0.128),(535,0.030),(532,-0.003),(558,0.007),(562,-0.021),(596,-0.046),
 (630,0.043),(644,0.058),(644,0.021),(641,-0.042),(640,-0.073),(646,-0.062),(525,-0.046),(536,-0.050),(546,-0.060),(562,-0.042),
 (570,-0.053),(579,-0.060),(589,-0.074),(529,-0.074),(541,-0.081),(553,-0.081),(563,-0.081),(574,-0.085),(584,-0.089),(594,-0.096),
 (603,-0.096),(527,-0.103),(536,-0.106),(548,-0.103),(558,-0.110),(569,-0.113),(579,-0.117),(591,-0.110),(600,-0.103),(525,-0.124),
 (543,-0.124),(553,-0.128),(563,-0.124),(574,-0.128),(584,-0.124),(594,-0.120),(603,-0.128),(612,-0.120),(620,-0.108),(631,-0.118),
 (546,-0.138),(560,-0.145),(574,-0.142),(584,-0.145),(601,-0.145),(627,-0.137),(627,-0.156),(620,-0.159),(559,-0.163),(567,-0.175),
 (586,-0.167),(603,-0.163),(600,-0.181),(605,-0.184),(622,-0.167),(584,-0.208),(611,-0.213),(604,-0.310),(649,-0.323),(641,-0.500),
 (643,-0.518),
 (530,-0.065),(540,-0.070),(550,-0.068),(557,-0.095),(567,-0.096),(577,-0.099),(588,-0.093),(598,-0.088),(530,-0.113),(541,-0.116),
 (552,-0.113),(563,-0.100),(573,-0.097),(585,-0.103),(596,-0.108),(606,-0.112),(548,-0.093),(556,-0.060),(566,-0.066),(576,-0.072),
 (597,-0.078),(608,-0.082),(534,-0.135),(566,-0.133),(590,-0.135),(611,-0.130),(617,-0.146),(593,-0.152),(575,-0.155),(551,-0.150),
 (788,-0.294),(791,-0.294),(784,-0.310),(797,-0.305),(791,-0.330),
 (903,0.021),(903,0.000),(921,-0.011),(939,-0.009),(949,-0.026),(903,-0.021),(893,-0.039),(900,-0.035),(912,-0.039),(924,-0.032),
 (884,-0.074),(893,-0.067),(903,-0.060),(912,-0.067),(922,-0.071),(898,-0.085),(909,-0.085),(919,-0.089),(925,-0.092),(902,-0.103),
 (912,-0.110),(922,-0.113),(938,-0.085),(938,-0.116),(950,-0.060),(950,-0.076),(893,-0.110),(895,-0.128),(905,-0.117),(915,-0.120),
 (926,-0.120),(893,-0.145),(950,-0.099),(957,-0.099),(962,-0.106),(972,-0.128),(981,-0.138),(991,-0.124),(959,-0.124),(959,-0.138),
 (964,-0.145),(971,-0.156),(981,-0.156),(990,-0.159),(957,-0.163),(964,-0.174),(967,-0.184),(979,-0.188),(966,-0.213),(962,-0.241),
 (1002,-0.156),(1002,-0.234),(890,-0.314),(888,-0.330),(872,-0.386),(871,-0.405),(1009,-0.325),
 (888,-0.050),(897,-0.055),(907,-0.050),(917,-0.055),(928,-0.060),(886,-0.090),(896,-0.097),(906,-0.100),(916,-0.098),(927,-0.102),
 (908,-0.130),(918,-0.135),(930,-0.108),(898,-0.120),
]

x_tick_dates = ["2006-01-01", "2007-01-01", "2008-01-01", "2009-01-01"]
x_tick_labels = ["06/01", "07/01", "08/01", "09/01"]
x_range = ["2005-10-15", "2009-01-27"]

ndvi_ca_ticks = [0, 0.2, 0.4, 0.6, 0.8, 1]
ndvi_ca_labels = ["0", "0.2", "0.4", "0.6", "0.8", "1"]
cci_ca_ticks = [-0.3, -0.2, -0.1, 0, 0.1, 0.2, 0.3, 0.4, 0.5]
cci_ca_labels = ["-0.3", "-0.2", "-0.1", "0", "0.1", "0.2", "0.3", "0.4", "0.5"]
ndvi_us_ticks = [-0.2, 0, 0.2, 0.4, 0.6, 0.8, 1]
ndvi_us_labels = ["-0.2", "0", "0.2", "0.4", "0.6", "0.8", "1"]
cci_us_ticks = [-1, -0.5, 0, 0.5]
cci_us_labels = ["-1", "-0.5", "0", "0.5"]

# ---------------- layout helpers ----------------
W, H = 2813, 2316
OFF = 8  # page body margin offset
FONT = "Liberation Serif"
AX_COLOR = "#262626"

def fx(p):
    return (p - OFF) / W

def fy(p):
    return 1 - (p - OFF) / H

def to_dates(pairs):
    base = pd.Timestamp(DAY0)
    return [base + pd.Timedelta(days=d) for d, _ in pairs], [v for _, v in pairs]

panels = [
    dict(title="CA-Obs (ENF) 2006-2008", ylabel="NDVI", unc=ca_ndvi_uncorrected, cor=ca_ndvi_corrected,
         yr=[0, 1], yt=ndvi_ca_ticks, yl=ndvi_ca_labels, box=(228, 98, 1386, 986),
         title_y=55, xlab_y=1100, ylab_x=105),
    dict(title="CA-Obs (ENF) 2006-2008", ylabel="CCI", unc=ca_cci_uncorrected, cor=ca_cci_corrected,
         yr=[-0.3, 0.5], yt=cci_ca_ticks, yl=cci_ca_labels, box=(1639, 98, 2797, 986),
         title_y=55, xlab_y=1100, ylab_x=1496),
    dict(title="US-Atq (WET) 2006-2008", ylabel="NDVI", unc=us_ndvi_uncorrected, cor=us_ndvi_corrected,
         yr=[-0.2, 1], yt=ndvi_us_ticks, yl=ndvi_us_labels, box=(242, 1280, 1400, 2170),
         title_y=1238, xlab_y=2288, ylab_x=101),
    dict(title="US-Atq (WET) 2006-2008", ylabel="CCI", unc=us_cci_uncorrected, cor=us_cci_corrected,
         yr=[-1, 0.5], yt=cci_us_ticks, yl=cci_us_labels, box=(1651, 1280, 2809, 2170),
         title_y=1238, xlab_y=2288, ylab_x=1509),
]

fig = go.Figure()
annotations = []
layout_axes = {}

for i, p in enumerate(panels, start=1):
    sfx = "" if i == 1 else str(i)
    x0, y0, x1, y1 = p["box"]
    xd = [fx(x0), fx(x1)]
    yd = [fy(y1), fy(y0)]
    xu, yu = to_dates(p["unc"])
    xc, yc = to_dates(p["cor"])
    fig.add_trace(go.Scatter(x=xu, y=yu, mode="markers", name="uncorrected",
                             marker=dict(color="#000000", size=10, line=dict(width=0)),
                             xaxis="x" + sfx, yaxis="y" + sfx, showlegend=(i == 1)))
    fig.add_trace(go.Scatter(x=xc, y=yc, mode="markers", name="corrected",
                             marker=dict(color="#ff0000", size=10, line=dict(width=0)),
                             xaxis="x" + sfx, yaxis="y" + sfx, showlegend=(i == 1)))
    common = dict(showline=True, linecolor=AX_COLOR, linewidth=2, mirror="ticks",
                  ticks="inside", ticklen=14, tickwidth=2, tickcolor=AX_COLOR,
                  showgrid=False, zeroline=False, automargin=False, ticklabeloverflow="allow",
                  tickfont=dict(family=FONT, size=49, color=AX_COLOR))
    layout_axes["xaxis" + sfx] = dict(common, domain=xd, type="date", range=x_range,
                                      tickmode="array", tickvals=x_tick_dates, ticktext=x_tick_labels,
                                      anchor="y" + sfx, ticklabelstandoff=3)
    layout_axes["yaxis" + sfx] = dict(common, domain=yd, range=p["yr"],
                                      tickmode="array", tickvals=p["yt"], ticktext=p["yl"],
                                      anchor="x" + sfx, ticklabelstandoff=8)
    cx = fx((x0 + x1) / 2)
    annotations.append(dict(text="<b>%s</b>" % p["title"], x=cx, y=fy(p["title_y"]),
                            xref="paper", yref="paper", showarrow=False, xanchor="center", yanchor="middle",
                            font=dict(family=FONT, size=56, color="#000000")))
    annotations.append(dict(text="year/month", x=cx, y=fy(p["xlab_y"]),
                            xref="paper", yref="paper", showarrow=False, xanchor="center", yanchor="middle",
                            font=dict(family=FONT, size=56, color=AX_COLOR)))
    annotations.append(dict(text=p["ylabel"], x=fx(p["ylab_x"]), y=fy((y0 + y1) / 2), textangle=-90,
                            xref="paper", yref="paper", showarrow=False, xanchor="center", yanchor="middle",
                            font=dict(family=FONT, size=56, color=AX_COLOR)))

fig.update_layout(
    template="none",
    width=W, height=H, margin=dict(l=0, r=0, t=0, b=0, autoexpand=False),
    paper_bgcolor="white", plot_bgcolor="white",
    annotations=annotations,
    legend=dict(x=fx(263), y=fy(126), xanchor="left", yanchor="top",
                font=dict(family=FONT, size=42, color="#000000"),
                bgcolor="rgba(0,0,0,0)", borderwidth=0, itemwidth=88, tracegroupgap=0),
    shapes=[dict(type="line", xref="paper", yref="paper", x0=0, x1=0, y0=0, y1=1,
                 line=dict(color="#dcdcdc", width=2))],
    **layout_axes,
)

fig.write_html("out.html")
